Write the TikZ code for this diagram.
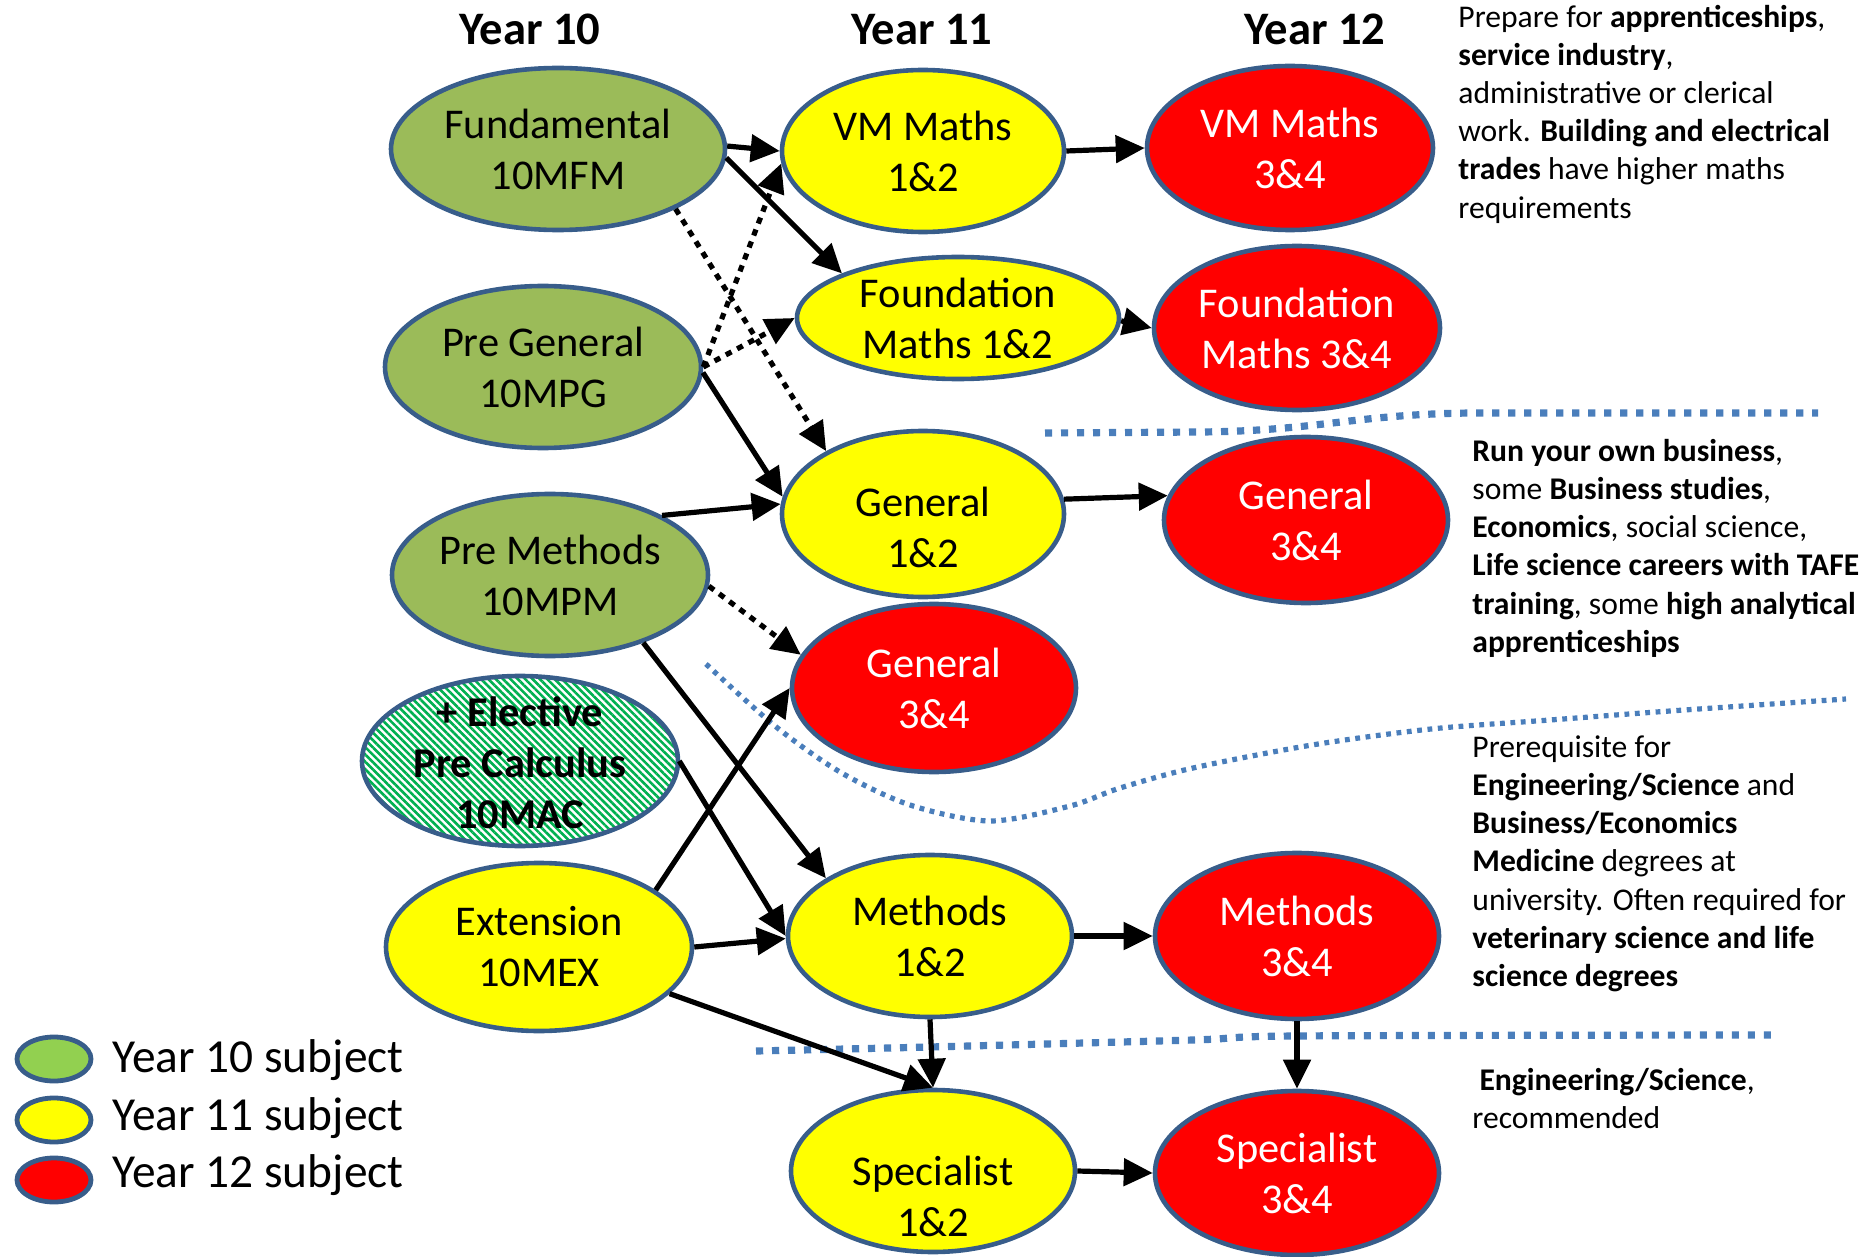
\documentclass[tikz,border=0pt]{standalone}
\usepackage{fontspec}
\setmainfont{Carlito}
\usetikzlibrary{shapes.geometric,arrows.meta,patterns.meta}
\definecolor{edgeblue}{HTML}{385D8A}
\definecolor{sepblue}{HTML}{4A7EBB}
\definecolor{yrten}{HTML}{9BBB59}
\definecolor{legten}{HTML}{92D050}
\definecolor{yrel}{HTML}{FFFF00}
\definecolor{yrtw}{HTML}{FF0000}
\definecolor{hatchgreen}{HTML}{00B050}
\begin{document}
\begin{tikzpicture}[x=0.5pt,y=-0.5pt,
 ell/.style={ellipse,draw=edgeblue,line width=2.3pt,inner sep=0pt,align=center,font=\fontsize{21.2}{25.5}\selectfont},
 ten/.style={ell,fill=yrten},
 eleven/.style={ell,fill=yrel},
 twelve/.style={ell,fill=yrtw,text=white},
 ltext/.style={inner sep=0pt,align=center,font=\fontsize{21.2}{25.5}\selectfont},
 hdr/.style={inner sep=0pt,anchor=base,font=\fontsize{23.3}{27}\selectfont\bfseries},
 note/.style={inner sep=0pt,anchor=north west,align=left,font=\fontsize{15.8}{19.1}\selectfont},
 legell/.style={ellipse,draw=edgeblue,line width=2.4pt,minimum width=37pt,minimum height=22pt,inner sep=0pt},
 legtext/.style={inner sep=0pt,anchor=base west,font=\fontsize{23.7}{29}\selectfont},
 arr/.style={line width=2.6pt,-{Triangle[length=14.5pt,width=13.5pt]}},
 darr/.style={arr,dash pattern=on 3.2pt off 3.2pt},
 septhick/.style={draw=sepblue,line width=3.6pt,dash pattern=on 3.6pt off 4.4pt},
 septhin/.style={draw=sepblue,line width=2.6pt,dash pattern=on 2.4pt off 2.8pt},
]
\useasboundingbox (0,0) rectangle (1870,1257);

% separators
\draw[septhick] (1045,433) -- (1200,432) .. controls (1320,431) and (1360,413) .. (1480,413) -- (1818,413);
\draw[septhin] plot[smooth] coordinates {(706,664) (775,726) (840,772) (910,805) (990,821) (1070,806) (1120,788) (1193,768) (1312,745) (1431,729) (1550,720) (1670,711) (1846,699)};
\draw[septhick] plot[smooth] coordinates {(756,1051) (930,1047) (1193,1040) (1296,1036) (1772,1035)};

% headers
\node[hdr] (h10) at (530,45) {Year 10};
\node[hdr] (h11) at (922,45) {Year 11};
\node[hdr] (h12) at (1315,45) {Year 12};

% Year 10
\node[ten,minimum width=167pt,minimum height=81pt] (fund) at (558,149) {Fundamental\\10MFM};
\node[ten,minimum width=158pt,minimum height=81pt] (pgen) at (543,367) {Pre General\\10MPG};
\node[ten,minimum width=158pt,minimum height=81pt] (pmeth) at (550,575) {Pre Methods\\10MPM};
\node[ell,pattern={Lines[angle=-45,distance=2.6pt,line width=1.3pt]},pattern color=hatchgreen,minimum width=158pt,minimum height=85pt] (elec) at (520,761) {};
\node[ltext,font=\fontsize{21.2}{25.5}\selectfont\bfseries] (elect) at (520,763) {+ Elective\\Pre Calculus\\10MAC};
\node[eleven,minimum width=153pt,minimum height=84pt] (ext) at (539,947) {Extension\\10MEX};

% Year 11
\node[eleven,minimum width=141pt,minimum height=81pt] (vm12) at (923,151) {VM Maths\\1\&2};
\node[eleven,minimum width=161pt,minimum height=61pt] (fm12) at (958,318) {Foundation\\Maths 1\&2};
\node[eleven,minimum width=141pt,minimum height=83pt] (gen12) at (923,514) {};
\node[ltext] (gen12t) at (923,527) {General\\1\&2};
\node[twelve,minimum width=142pt,minimum height=84pt] (gen34a) at (934,688) {General\\3\&4};
\node[eleven,minimum width=142pt,minimum height=81pt] (meth12) at (930,936) {Methods\\1\&2};
\node[eleven,minimum width=142pt,minimum height=81pt] (spec12) at (933,1171) {};
\node[ltext] (spec12t) at (933,1196) {Specialist\\1\&2};

% Year 12
\node[twelve,minimum width=143pt,minimum height=82pt] (vm34) at (1290,148) {VM Maths\\3\&4};
\node[twelve,minimum width=143pt,minimum height=82pt] (fm34) at (1297,328) {Foundation\\Maths 3\&4};
\node[twelve,minimum width=142pt,minimum height=83pt] (gen34) at (1306,520) {General\\3\&4};
\node[twelve,minimum width=142pt,minimum height=83pt] (meth34) at (1297,936) {Methods\\3\&4};
\node[twelve,minimum width=142pt,minimum height=82pt] (spec34) at (1297,1173) {Specialist\\3\&4};

% arrows
\draw[arr] (fund.1) -- (vm12.180);
\draw[arr] (fund.-3) -- (fm12.159);
\draw[darr] (fund.-27) -- (gen12.147);
\draw[darr] (pgen.0) -- (vm12.185);
\draw[darr] (pgen.0) -- (fm12.180);
\draw[arr] (pgen.-2) -- (gen12.173);
\draw[arr] (pmeth.28) -- (gen12.176);
\draw[darr] (pmeth.-4) -- (gen34a.166);
\draw[arr] (pmeth.-36) -- (meth12.151);
\draw[arr] (elec.0) -- (meth12.180);
\draw[arr] (ext.26) -- (gen34a.180);
\draw[arr] (ext.0) -- (meth12.181);
\draw[arr] (ext) -- (spec12.north);
\draw[arr] (meth12.south) -- (spec12.north);
\draw[arr] (vm12.0) -- (vm34.180);
\draw[arr] (fm12.-1) -- (fm34.180);
\draw[arr] (gen12.6) -- (gen34.170);
\draw[arr] (meth12.0) -- (meth34.180);
\draw[arr] (spec12.0) -- (spec34.180);
\draw[arr] (meth34.south) -- (spec34.north);

% notes
\node[note] (n1) at (1458,0) {\rule{0pt}{13.4pt}Prepare for \textbf{apprenticeships},\\
\textbf{service industry},\\
administrative or clerical\\
work. \textbf{Building and electrical}\\
\textbf{trades} have higher maths\\
requirements};
\node[note] (n2) at (1472,434) {\rule{0pt}{13.4pt}\textbf{Run your own business},\\
some \textbf{Business studies},\\
\textbf{Economics}, social science,\\
\textbf{Life science careers with TAFE}\\
\textbf{training}, some \textbf{high analytical}\\
\textbf{apprenticeships}};
\node[note] (n3) at (1472,730) {\rule{0pt}{13.4pt}Prerequisite for\\
\textbf{Engineering/Science} and\\
\textbf{Business/Economics}\\
\textbf{Medicine} degrees at\\
university. Often required for\\
\textbf{veterinary science and life}\\
\textbf{science degrees}};
\node[note] (n4) at (1472,1063) {\rule{0pt}{13.4pt}\ \textbf{Engineering/Science},\\
recommended};

% legend
\node[legell,fill=legten] (l10) at (54,1059) {};
\node[legell,fill=yrel] (l11) at (54,1120) {};
\node[legell,fill=yrtw] (l12) at (54,1180) {};
\node[legtext] (l10t) at (112,1072) {Year 10 subject};
\node[legtext] (l11t) at (112,1130) {Year 11 subject};
\node[legtext] (l12t) at (112,1187) {Year 12 subject};
\end{tikzpicture}
\end{document}
